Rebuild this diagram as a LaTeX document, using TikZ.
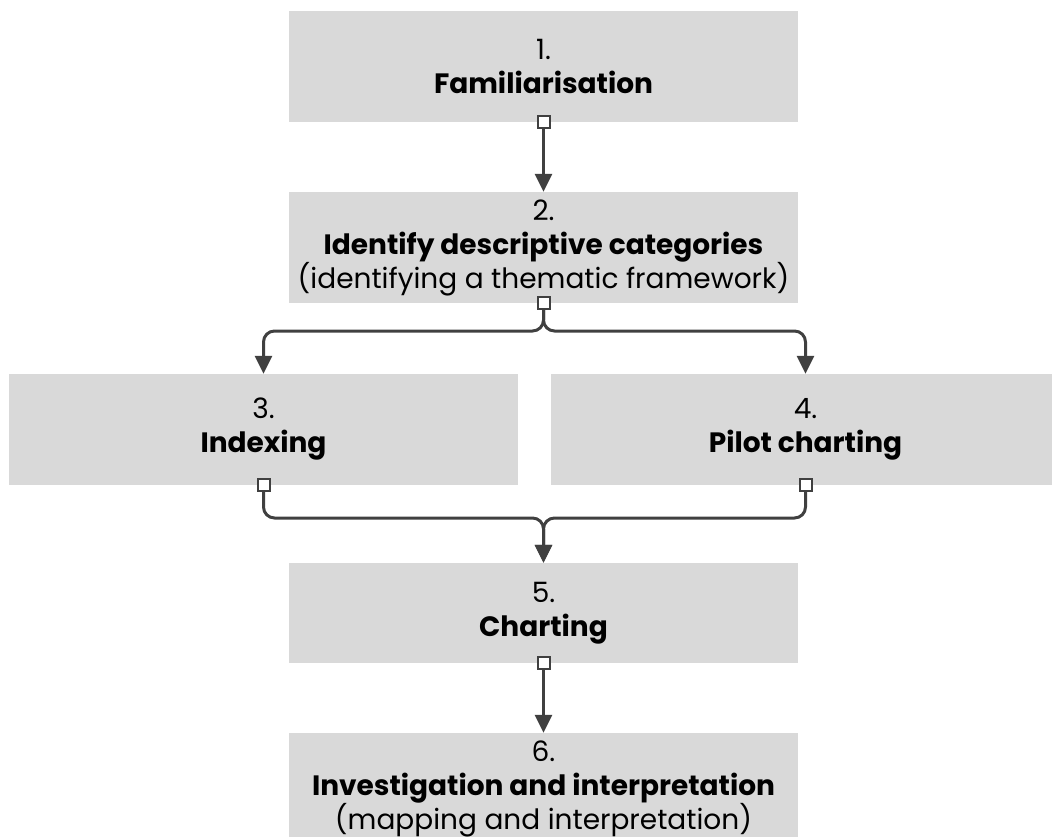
\documentclass[tikz,border=0pt]{standalone}
\usepackage{fontspec}
\setmainfont{Poppins}
\usetikzlibrary{arrows.meta}
\definecolor{boxgray}{HTML}{D9D9D9}
\definecolor{linegray}{HTML}{404040}
\begin{document}
\begin{tikzpicture}[x=1pt,y=-1pt,
  stage/.style={fill=boxgray, minimum width=509pt, minimum height=111pt,
    align=center, inner sep=0pt, font=\fontsize{28}{34}\selectfont},
  link/.style={draw=linegray, line width=3pt, rounded corners=11pt,
    -{Triangle[length=18pt,width=17pt]}},
  port/.style={draw=linegray, fill=white, line width=2pt,
    minimum size=12pt, inner sep=0pt}
]
\useasboundingbox (0,0) rectangle (1052,837);
\clip (0,0) rectangle (1052,837);

% stages
\node[stage] (b1) at (543.5,66.5) {1.\\\textbf{Familiarisation}};
\node[stage] (b2) at (543.5,247.5) {2.\\\textbf{Identify descriptive categories}\\(identifying a thematic framework)};
\node[stage] (b3) at (263.5,429.5) {3.\\\textbf{Indexing}};
\node[stage] (b4) at (805.5,429.5) {4.\\\textbf{Pilot charting}};
\node[stage, minimum height=100pt] (b5) at (543.5,613) {5.\\\textbf{Charting}};
\node[stage] (b6) at (543.5,788.5) {6.\\\textbf{Investigation and interpretation}\\(mapping and interpretation)};

% branch and join points
\coordinate (split) at (543.5,331);
\coordinate (merge) at (543.5,518);

% connectors
\draw[link] (b1.south) -- (b2.north);
\draw[link] (b2.south) -- (split) -- (split -| b3.north) -- (b3.north);
\draw[link] (b2.south) -- (split) -- (split -| b4.north) -- (b4.north);
\draw[link] (b3.south) -- (b3.south |- merge) -- (merge) -- (b5.north);
\draw[link] (b4.south) -- (b4.south |- merge) -- (merge) -- (b5.north);
\draw[link] (b5.south) -- (b6.north);

% connection ports on the lower edges
\node[port] (p1) at (b1.south) {};
\node[port] (p2) at (b2.south) {};
\node[port] (p3) at (b3.south) {};
\node[port] (p4) at (b4.south) {};
\node[port] (p5) at (b5.south) {};
\end{tikzpicture}
\end{document}
